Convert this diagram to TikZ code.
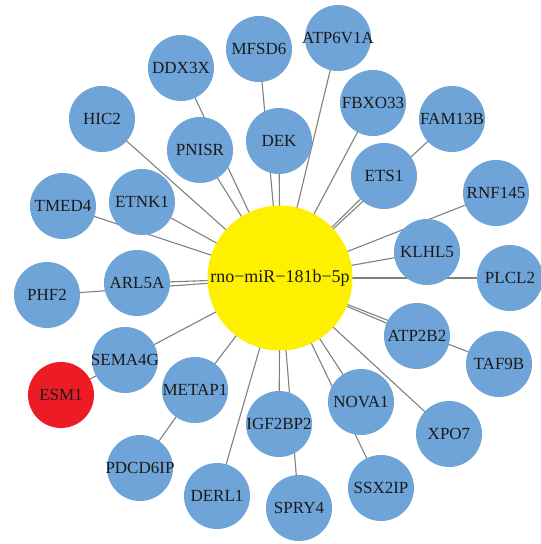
\documentclass[tikz,border=0pt]{standalone}
\usepackage{fontspec}
\setmainfont{Liberation Serif}
\usetikzlibrary{backgrounds}
\definecolor{genefill}{HTML}{6FA4D8}
\definecolor{hubfill}{HTML}{FFF000}
\definecolor{hitfill}{HTML}{ED1C24}
\definecolor{linkgray}{HTML}{808080}
\definecolor{labeltext}{HTML}{1A1A1A}
\newcommand{\genelabel}[1]{\makebox[0pt]{#1}}
\begin{document}
\begin{tikzpicture}[x=1pt,y=-1pt,
  gene/.style={circle,fill=genefill,minimum size=66pt,inner sep=0pt,
    font=\fontsize{17}{17}\selectfont,text=labeltext},
  hit/.style={gene,fill=hitfill},
  hub/.style={circle,fill=hubfill,minimum size=145pt,inner sep=0pt,
    font=\fontsize{18}{18}\selectfont,text=labeltext},
  link/.style={draw=linkgray,line width=1.1pt}]
\useasboundingbox (0,0) rectangle (541,544);

% central miRNA
\node[hub] (hub) at (280,278) {\genelabel{rno−miR−181b−5p}};

% target genes
\foreach \id/\x/\y/\txt in {
  atp6v1a/338/38/ATP6V1A, mfsd6/259/49/MFSD6, ddx3x/181/68/DDX3X,
  fbxo33/373/103/FBXO33, fam13b/452/119/FAM13B, hic2/102/119/HIC2,
  pnisr/200/150/PNISR, dek/279/141/DEK, ets1/384/176/ETS1,
  rnf145/496/193/RNF145, tmed4/63/206/TMED4, etnk1/142/202/ETNK1,
  klhl5/427/252/KLHL5, plcl2/510/278/PLCL2, phf2/47/295/PHF2,
  arl5a/137/283/ARL5A, atp2b2/417/336/ATP2B2, taf9b/499/364/TAF9B,
  sema4g/125/360/SEMA4G, metap1/195/390/METAP1, igf2bp2/279/424/IGF2BP2,
  nova1/361/402/NOVA1, xpo7/449/434/XPO7, pdcd6ip/140/468/PDCD6IP,
  derl1/217/496/DERL1, spry4/299/508/SPRY4, ssx2ip/381/488/SSX2IP}
  \node[gene] (\id) at (\x,\y) {\genelabel{\txt}};
\node[hit] (esm1) at (61,395) {\genelabel{ESM1}};

% regulatory links, drawn beneath the circles
\begin{pgfonlayer}{background}
  \foreach \id in {atp6v1a,mfsd6,ddx3x,fbxo33,fam13b,hic2,pnisr,dek,ets1,
    rnf145,tmed4,etnk1,klhl5,plcl2,phf2,arl5a,atp2b2,taf9b,sema4g,metap1,
    igf2bp2,nova1,xpo7,derl1,spry4,ssx2ip}
    \draw[link] (hub.center) -- (\id.center);
  \draw[link] (sema4g.center) -- (esm1.center);
  \draw[link] (metap1.center) -- (pdcd6ip.center);
\end{pgfonlayer}
\end{tikzpicture}
\end{document}
